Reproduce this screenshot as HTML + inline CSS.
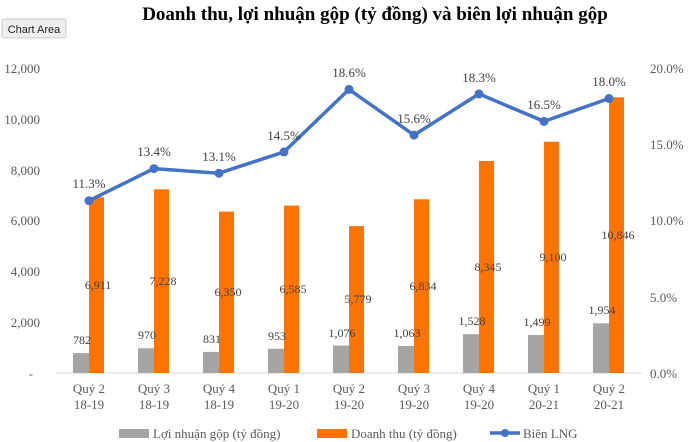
<!DOCTYPE html><html><head><meta charset="utf-8"><style>body{margin:0;background:#fff}svg{display:block}</style></head><body>
<svg width="693" height="442" xmlns="http://www.w3.org/2000/svg" font-family="Liberation Serif, serif">
<text x="375" y="20" text-anchor="middle" font-size="19" font-weight="bold" fill="#000">Doanh thu, lợi nhuận gộp (tỷ đồng) và biên lợi nhuận gộp</text>
<rect x="2" y="19" width="64" height="19" fill="#eee" stroke="#ccc" rx="2"/>
<text x="34" y="33" text-anchor="middle" font-family="Liberation Sans, sans-serif" font-size="11" fill="#222">Chart Area</text>
<g font-size="13" fill="#595959" text-anchor="end">
<text x="40" y="73">12,000</text><text x="40" y="124">10,000</text><text x="40" y="175">8,000</text><text x="40" y="225">6,000</text><text x="40" y="276">4,000</text><text x="40" y="327">2,000</text><text x="33" y="378">-</text>
</g>
<g font-size="13" fill="#595959">
<text x="650" y="73">20.0%</text><text x="650" y="149">15.0%</text><text x="650" y="225">10.0%</text><text x="650" y="302">5.0%</text><text x="650" y="378">0.0%</text>
</g>
<line x1="56" y1="373" x2="642" y2="373" stroke="#d9d9d9"/>
<g fill="#a5a5a5">
<rect x="73" y="353.1" width="16" height="19.9"/>
<rect x="138" y="348.3" width="16" height="24.7"/>
<rect x="203" y="351.9" width="16" height="21.1"/>
<rect x="268" y="348.8" width="16" height="24.2"/>
<rect x="333" y="345.6" width="16" height="27.4"/>
<rect x="398" y="346" width="16" height="27"/>
<rect x="463" y="334.2" width="16" height="38.8"/>
<rect x="528" y="334.9" width="16" height="38.1"/>
<rect x="593" y="323.3" width="16" height="49.7"/>
</g>
<g fill="#ff7300">
<rect x="89" y="197.3" width="15" height="175.7"/>
<rect x="154" y="189.3" width="15" height="183.7"/>
<rect x="219" y="211.6" width="15" height="161.4"/>
<rect x="284" y="205.6" width="15" height="167.4"/>
<rect x="349" y="226.1" width="15" height="146.9"/>
<rect x="414" y="199.3" width="15" height="173.7"/>
<rect x="479" y="160.9" width="15" height="212.1"/>
<rect x="544" y="141.7" width="15" height="231.3"/>
<rect x="609" y="97.3" width="15" height="275.7"/>
</g>
<g font-size="12" fill="#404040" text-anchor="middle">
<text x="82" y="344">782</text><text x="147" y="339">970</text><text x="212" y="343">831</text><text x="277" y="340">953</text><text x="342" y="337">1,076</text><text x="407" y="337">1,063</text><text x="472" y="325">1,528</text><text x="537" y="326">1,499</text><text x="602" y="314">1,954</text>
<text x="98" y="289">6,911</text><text x="163" y="285">7,228</text><text x="228" y="296">6,350</text><text x="293" y="293">6,585</text><text x="358" y="303">5,779</text><text x="423" y="290">6,834</text><text x="488" y="271">8,345</text><text x="553" y="261">9,100</text><text x="618" y="239">10,846</text>
</g>
<polyline points="89,200.7 154,168.6 219,173.2 284,151.9 349,89.4 414,135.1 479,93.9 544,121.4 609,98.5" fill="none" stroke="#4472c4" stroke-width="3.5" stroke-linejoin="round"/>
<g fill="#4472c4">
<circle cx="89" cy="200.7" r="4.5"/><circle cx="154" cy="168.6" r="4.5"/><circle cx="219" cy="173.2" r="4.5"/><circle cx="284" cy="151.9" r="4.5"/><circle cx="349" cy="89.4" r="4.5"/><circle cx="414" cy="135.1" r="4.5"/><circle cx="479" cy="93.9" r="4.5"/><circle cx="544" cy="121.4" r="4.5"/><circle cx="609" cy="98.5" r="4.5"/>
</g>
<g font-size="13" fill="#404040" text-anchor="middle">
<text x="89" y="188">11.3%</text><text x="154" y="156">13.4%</text><text x="219" y="161">13.1%</text><text x="284" y="140">14.5%</text><text x="349" y="77">18.6%</text><text x="414" y="123">15.6%</text><text x="479" y="82">18.3%</text><text x="544" y="109">16.5%</text><text x="609" y="86">18.0%</text>
</g>
<g font-size="13" fill="#595959" text-anchor="middle">
<text x="89" y="393">Quý 2</text><text x="89" y="409">18-19</text>
<text x="154" y="393">Quý 3</text><text x="154" y="409">18-19</text>
<text x="219" y="393">Quý 4</text><text x="219" y="409">18-19</text>
<text x="284" y="393">Quý 1</text><text x="284" y="409">19-20</text>
<text x="349" y="393">Quý 2</text><text x="349" y="409">19-20</text>
<text x="414" y="393">Quý 3</text><text x="414" y="409">19-20</text>
<text x="479" y="393">Quý 4</text><text x="479" y="409">19-20</text>
<text x="544" y="393">Quý 1</text><text x="544" y="409">20-21</text>
<text x="609" y="393">Quý 2</text><text x="609" y="409">20-21</text>
</g>
<rect x="119" y="429" width="30" height="9" fill="#a5a5a5"/>
<text x="153" y="438" font-size="13" fill="#595959">Lợi nhuận gộp (tỷ đồng)</text>
<rect x="317" y="429" width="30" height="9" fill="#ff7300"/>
<text x="351" y="438" font-size="13" fill="#595959">Doanh thu (tỷ đồng)</text>
<line x1="490" y1="433" x2="520" y2="433" stroke="#4472c4" stroke-width="3.5"/><circle cx="505" cy="433" r="4" fill="#4472c4"/>
<text x="523" y="438" font-size="13" fill="#595959">Biên LNG</text>
</svg></body></html>
